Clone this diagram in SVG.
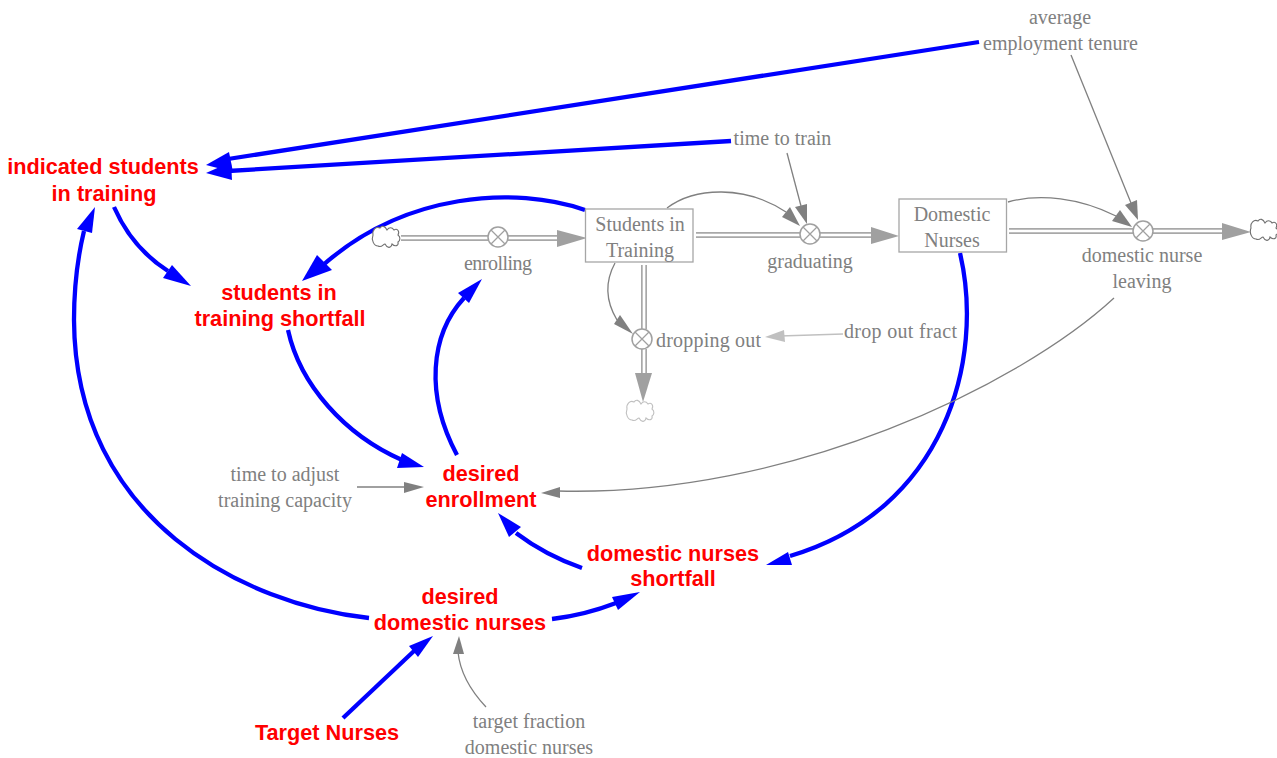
<svg xmlns="http://www.w3.org/2000/svg" width="1277" height="758" viewBox="0 0 1277 758">
<style>
.g{font:20px "Liberation Serif",serif;fill:#808080;text-anchor:middle}
.r{font:bold 21.7px "Liberation Sans",sans-serif;fill:#f00;text-anchor:middle}
.b{fill:none;stroke:#00f;stroke-width:4.3}
.c{fill:none;stroke:#808080;stroke-width:1.3}
.pb{fill:none;stroke:#a8a8a8;stroke-width:6}
.pw{fill:none;stroke:#fff;stroke-width:2.6}
.box{fill:#fff;stroke:#a6a6a6;stroke-width:1.3}
.v{fill:#fff;stroke:#a0a0a0;stroke-width:1.5}
.x{stroke:#a0a0a0;stroke-width:1.3}
.cl{fill:#fff;stroke:#707070;stroke-width:1.1}
.ab{fill:#00f}.ag{fill:#808080}.ap{fill:#a0a0a0}
</style>
<defs>
<path id="cloud" d="M-13-3C-14-8-10-12-6-10C-4-13-1-12 1-8C3-11 6-11 8-8C11-10 14-7 12-3C15-1 14 3 12 4C13 8 9 9 6 6C5 11 1 10-1 6C-3 6-4 10-8 8C-12 8-15 2-13-3Z"/>
<g id="valve"><circle class="v" r="10"/><path class="x" d="M-7-7L7 7M7-7L-7 7"/></g>
</defs>
<g id="connectors">
<path class="b" d="M979 42L228 159"/><path class="ab" d="M206 165L229 152L233 172Z"/>
<path class="b" d="M731 141L228 171"/><path class="ab" d="M206 173L231 162L232 180Z"/>
<path class="b" d="M114 207Q132 248 168 271"/><path class="ab" d="M191 286L163 278L172 265Z"/>
<path class="b" d="M585 210C515 186 405 192 322 266"/><path class="ab" d="M302 281L317 255L332 270Z"/>
<path class="b" d="M288 330C300 385 345 435 402 460"/><path class="ab" d="M424 467L397 468L402 453Z"/>
<path class="b" d="M457 455C425 395 430 335 464 298"/><path class="ab" d="M482 279L469 303L458 293Z"/>
<path class="b" d="M960 253C985 360 945 510 790 556"/><path class="ab" d="M766 565L788 552L792 565Z"/>
<path class="b" d="M582 568Q545 555 516 533"/><path class="ab" d="M498 513L521 527L509 537Z"/>
<path class="b" d="M552 619Q585 615 616 603"/><path class="ab" d="M640 592L618 610L612 597Z"/>
<path class="b" d="M369 618C245 605 75 520 74 320C74 285 77 260 84 231"/><path class="ab" d="M95 207L92 233L77 229Z"/>
<path class="b" d="M343 718L414 651"/><path class="ab" d="M433 636L418 657L409 646Z"/>
<path class="c" d="M1071 55L1131 203"/><path class="ag" d="M1138 220L1125 205L1137 200Z"/>
<path class="c" d="M1008 202C1040 193 1080 198 1116 216"/><path class="ag" d="M1132 227L1112 221L1120 210Z"/>
<path class="c" d="M787 153L801 206"/><path class="ag" d="M807 224L795 207L807 204Z"/>
<path class="c" d="M667 208C695 187 745 185 786 212"/><path class="ag" d="M800 226L782 217L790 207Z"/>
<path class="c" d="M615 263C603 285 608 305 617 320"/><path class="ag" d="M633 334L614 324L620 315Z"/>
<path stroke="#c0c0c0" stroke-width="1.3" d="M843 334L780 336"/><path fill="#c0c0c0" d="M765 337L784 330L785 342Z"/>
<path class="c" d="M1114 298C1020 385 790 497 558 491"/><path class="ag" d="M541 493L560 487V498Z"/>
<path class="c" d="M357 487H406"/><path class="ag" d="M424 487L404 482V493Z"/>
<path class="c" d="M486 707C470 690 460 672 458 652"/><path class="ag" d="M459 636L464 654H453Z"/>
</g>
<g id="pipes">
<path class="pb" d="M401 238H488M508 238H562"/><path class="pw" d="M401 238H488M508 238H562"/><path class="ap" d="M587 238L557 230V247Z"/>
<path class="pb" d="M696 235H800M820 235H875"/><path class="pw" d="M696 235H800M820 235H875"/><path class="ap" d="M899 236L871 227V244Z"/>
<path class="pb" d="M1009 231H1133M1153 231H1226"/><path class="pw" d="M1009 231H1133M1153 231H1226"/><path class="ap" d="M1251 232L1222 223V240Z"/>
<path class="pb" d="M644 265V329M644 349V378"/><path class="pw" d="M644 265V329M644 349V378"/><path class="ap" d="M643 402L635 373H652Z"/>
</g>
<g id="cloud-enrolling"><use href="#cloud" x="386" y="238" class="cl"/></g>
<g id="cloud-dropping"><use href="#cloud" x="640" y="412" class="cl" style="stroke:#c0c0c0"/></g>
<g id="cloud-leaving"><use href="#cloud" x="1264" y="231" class="cl"/></g>
<g id="enrolling"><use href="#valve" x="498" y="237"/><text class="g" x="498" y="270" textLength="68">enrolling</text></g>
<g id="graduating"><use href="#valve" x="810" y="234"/><text class="g" x="810" y="268">graduating</text></g>
<g id="leaving"><use href="#valve" x="1143" y="231"/><text class="g" x="1142" y="262">domestic nurse</text><text class="g" x="1142" y="288">leaving</text></g>
<g id="dropping"><use href="#valve" x="642" y="339"/><text class="g" x="708.500" y="347" textLength="105">dropping out</text></g>
<g id="students"><rect class="box" x="585.500" y="209" width="107.500" height="53"/><text class="g" x="640" y="231">Students in</text><text class="g" x="640" y="257">Training</text></g>
<g id="nurses"><rect class="box" x="899" y="199" width="107.500" height="53"/><text class="g" x="952" y="221">Domestic</text><text class="g" x="952" y="247">Nurses</text></g>
<g id="tenure"><text class="g" x="1060" y="24">average</text><text class="g" x="1060.500" y="50">employment tenure</text></g>
<g id="time-to-train"><text class="g" x="782.500" y="145">time to train</text></g>
<g id="drop-out-fract"><text class="g" x="900.500" y="338" textLength="113">drop out fract</text></g>
<g id="time-to-adjust"><text class="g" x="285" y="481">time to adjust</text><text class="g" x="285" y="507">training capacity</text></g>
<g id="target-fraction"><text class="g" x="529" y="728">target fraction</text><text class="g" x="529" y="754">domestic nurses</text></g>
<g id="indicated"><text class="r" x="103" y="174">indicated students</text><text class="r" x="104" y="201">in training</text></g>
<g id="shortfall-students"><text class="r" x="279" y="300">students in</text><text class="r" x="280" y="326">training shortfall</text></g>
<g id="desired-enrollment"><text class="r" x="481" y="481">desired</text><text class="r" x="481" y="507">enrollment</text></g>
<g id="shortfall-nurses"><text class="r" x="673" y="561">domestic nurses</text><text class="r" x="673" y="586">shortfall</text></g>
<g id="desired-nurses"><text class="r" x="460" y="604">desired</text><text class="r" x="460" y="630">domestic nurses</text></g>
<g id="target"><text class="r" x="327" y="740">Target Nurses</text></g>
</svg>
